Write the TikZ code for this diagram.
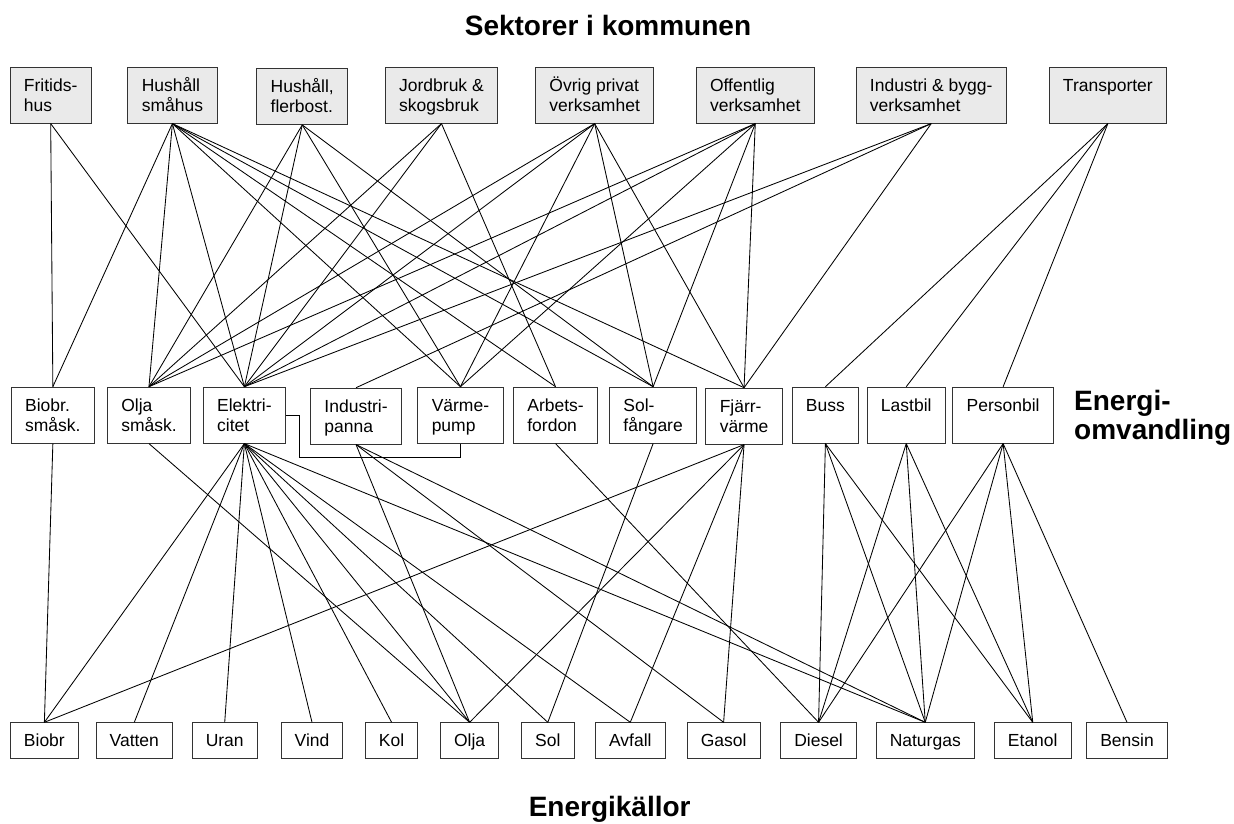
\documentclass[tikz,border=0pt]{standalone}
\usepackage{fontspec}
\setmainfont{Liberation Sans}
\definecolor{secfill}{RGB}{234,234,234}
\newcommand{\twoln}[2]{\rule{0pt}{17pt}#1\\#2\rule[-4pt]{0pt}{4pt}}
\begin{document}
\begin{tikzpicture}[x=1pt,y=-1pt,
  sect/.style={draw=black!80, line width=0.9pt, fill=secfill, font=\fontsize{17.5}{20}\selectfont, align=left, inner xsep=14pt, inner ysep=0pt, minimum height=56pt, anchor=north west},
  conv/.style={sect, fill=white},
  src/.style={draw=black!80, line width=0.9pt, fill=white, font=\fontsize{17.5}{20}\selectfont, inner xsep=13.5pt, inner ysep=0pt, minimum height=35.4pt, text height=17pt, text depth=4pt, anchor=north west},
  link/.style={line width=0.85pt, black},
  title/.style={font=\bfseries\fontsize{28}{32}\selectfont, inner sep=0pt}]
\useasboundingbox (0,0) rectangle (1234,823);

% titles
\node[title, anchor=base] (t1) at (608,35) {Sektorer i kommunen};
\node[title, anchor=base] (t2) at (609.7,816.5) {Energikällor};
\node[title, anchor=base west] (t3a) at (1074,410.7) {Energi-};
\node[title, anchor=base west] (t3b) at (1074,439.5) {omvandling};

% sectors
\node[sect] (fritid) at (9.5,66.7) {\twoln{Fritids-}{hus}};
\node[sect] (hsma) at (127.3,66.7) {\twoln{Hushåll}{småhus}};
\node[sect] (hfler) at (256.2,68) {\twoln{Hushåll,}{flerbost.}};
\node[sect] (jord) at (384.7,66.7) {\twoln{Jordbruk \&}{skogsbruk}};
\node[sect] (ovrig) at (535,66.7) {\twoln{Övrig privat}{verksamhet}};
\node[sect] (offent) at (695.6,66.7) {\twoln{Offentlig}{verksamhet}};
\node[sect] (indu) at (855.5,66.7) {\twoln{Industri \& bygg-}{verksamhet}};
\node[sect] (transp) at (1048.5,66.7) {\twoln{Transporter}{}};

% conversion
\node[conv] (biosm) at (10.7,386.7) {\twoln{Biobr.}{småsk.}};
\node[conv] (oljasm) at (106.8,386.7) {\twoln{Olja}{småsk.}};
\node[conv] (el) at (202.7,386.7) {\twoln{Elektri-}{citet}};
\node[conv] (indp) at (310,387.7) {\twoln{Industri-}{panna}};
\node[conv] (varme) at (417.3,386.7) {\twoln{Värme-}{pump}};
\node[conv] (arbets) at (512.9,386.7) {\twoln{Arbets-}{fordon}};
\node[conv] (sol) at (609,386.7) {\twoln{Sol-}{fångare}};
\node[conv] (fjarr) at (705.3,387.7) {\twoln{Fjärr-}{värme}};
\node[conv] (buss) at (791.5,386.7) {\twoln{Buss}{}};
\node[conv] (lastbil) at (866.5,386.7) {\twoln{Lastbil}{}};
\node[conv] (personbil) at (952.2,386.7) {\twoln{Personbil}{}};

% sources
\node[src] (biobr) at (10,722.3) {Biobr};
\node[src] (vatten) at (95.7,722.3) {Vatten};
\node[src] (uran) at (191.8,722.3) {Uran};
\node[src] (vind) at (280.7,722.3) {Vind};
\node[src] (kol) at (365,722.3) {Kol};
\node[src] (olja) at (440.1,722.3) {Olja};
\node[src] (solk) at (521.2,722.3) {Sol};
\node[src] (avfall) at (595.1,722.3) {Avfall};
\node[src] (gasol) at (686.8,722.3) {Gasol};
\node[src] (diesel) at (780.3,722.3) {Diesel};
\node[src] (naturgas) at (875.8,722.3) {Naturgas};
\node[src] (etanol) at (994,722.3) {Etanol};
\node[src] (bensin) at (1086.3,722.3) {Bensin};

% sector -> conversion
\foreach \a/\b in {fritid/biosm, fritid/el,
  hsma/biosm, hsma/oljasm, hsma/el, hsma/varme, hsma/arbets, hsma/sol, hsma/fjarr,
  hfler/oljasm, hfler/el, hfler/varme, hfler/sol,
  jord/oljasm, jord/el, jord/arbets,
  ovrig/oljasm, ovrig/el, ovrig/varme, ovrig/sol, ovrig/fjarr,
  offent/oljasm, offent/el, offent/varme, offent/sol, offent/fjarr,
  indu/el, indu/indp, indu/fjarr,
  transp/buss, transp/lastbil, transp/personbil}
  \draw[link] (\a.south) -- (\b.north);

% conversion -> sources
\foreach \a/\b in {biosm/biobr, oljasm/olja,
  el/biobr, el/vatten, el/uran, el/vind, el/kol, el/olja, el/solk, el/avfall, el/naturgas,
  indp/olja, indp/gasol, indp/naturgas,
  arbets/diesel, sol/solk,
  fjarr/biobr, fjarr/olja, fjarr/avfall, fjarr/gasol,
  buss/diesel, buss/naturgas, buss/etanol,
  lastbil/diesel, lastbil/naturgas, lastbil/etanol,
  personbil/diesel, personbil/naturgas, personbil/etanol, personbil/bensin}
  \draw[link] (\a.south) -- (\b.north);

% electricity -> heat pump
\coordinate (elbend) at (299.3,457.7);
\draw[link] (el.east) -| (elbend) -| (varme.south);
\end{tikzpicture}
\end{document}
